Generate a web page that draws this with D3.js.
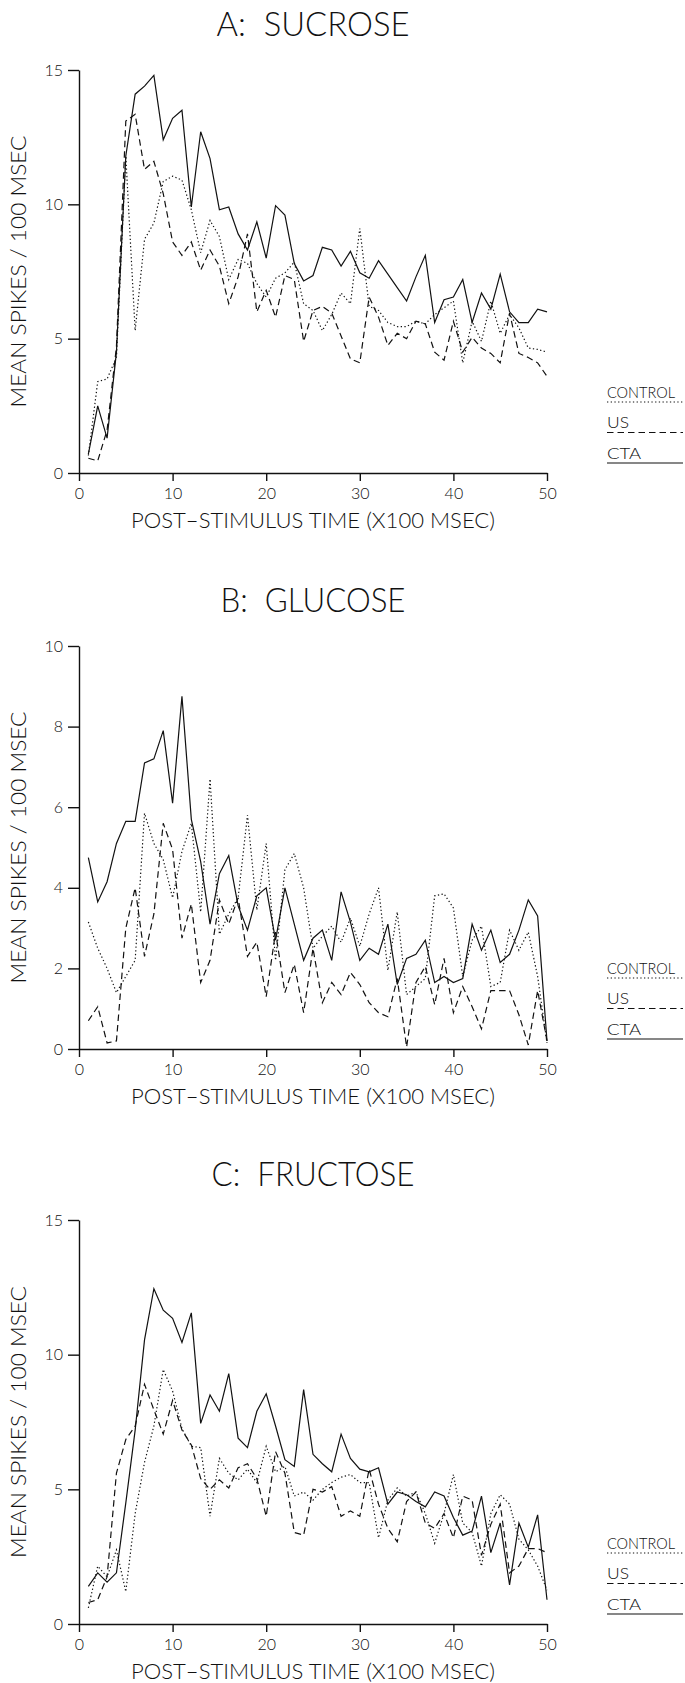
<!DOCTYPE html>
<html>
<head>
<meta charset="utf-8">
<script src="https://cdn.jsdelivr.net/npm/d3@7"></script>
<style>
  body { margin: 0; background: #fff; }
  svg text { font-family: Lato, "Liberation Sans", Arial, sans-serif; font-weight: 300; fill: #111; white-space: pre; }
</style>
</head>
<body>
<svg id="chart" width="685" height="1683"></svg>
<script>
//
// Data
//

// time bins, x100 msec
const bins = d3.range(1, 51)
const xTicks = [0, 10, 20, 30, 40, 50]
const ticks15 = [0, 5, 10, 15]
const ticks10 = [0, 2, 4, 6, 8, 10]

const sucroseControl = [0.65, 3.4, 3.5, 4.3, 11.8, 5.3, 8.7, 9.3, 10.85, 11.05, 10.9, 9.8, 8.2, 9.4, 8.8, 7.2, 7.95, 7.8, 7.05, 6.55,
  7.25, 7.45, 7.85, 6.3, 6.05, 5.3, 5.9, 6.7, 6.3, 9.1, 6.2, 6.05, 5.6, 5.45, 5.45, 5.65, 5.55, 5.9, 6.15, 6.4,
  4.1, 5.65, 4.9, 6.4, 5.2, 5.9, 5.4, 4.65, 4.6, 4.5]
const sucroseUS = [0.55, 0.45, 1.6, 4.7, 13.1, 13.35, 11.3, 11.6, 10.4, 8.6, 8.1, 8.6, 7.55, 8.3, 7.7, 6.3, 7.3, 8.9, 6.0, 6.8,
  5.8, 7.35, 7.2, 4.9, 6.05, 6.2, 5.95, 5.1, 4.25, 4.1, 6.55, 5.8, 4.75, 5.2, 5.0, 5.65, 5.55, 4.5, 4.2, 5.65,
  4.5, 5.05, 4.65, 4.45, 4.1, 5.95, 4.45, 4.3, 4.1, 3.6]
const sucroseCTA = [0.7, 2.5, 1.3, 4.5, 11.8, 14.1, 14.4, 14.8, 12.4, 13.2, 13.5, 9.9, 12.7, 11.7, 9.8, 9.9, 8.9, 8.3, 9.35, 8.0,
  9.95, 9.6, 7.8, 7.15, 7.35, 8.4, 8.3, 7.7, 8.25, 7.45, 7.25, 7.9, 7.4, 6.9, 6.4, 7.3, 8.1, 5.6, 6.45, 6.55,
  7.2, 5.6, 6.7, 6.1, 7.4, 6.0, 5.6, 5.6, 6.1, 6.0]

const glucoseControl = [3.15, 2.5, 2.0, 1.4, 1.8, 2.2, 5.85, 5.1, 4.7, 3.75, 4.9, 5.6, 3.4, 6.7, 2.85, 3.35, 3.75, 5.8, 3.45, 5.1,
  2.2, 4.45, 4.85, 4.0, 2.5, 2.8, 3.05, 2.65, 3.25, 2.55, 3.35, 4.0, 1.95, 3.4, 1.35, 1.55, 1.75, 3.8, 3.85, 3.5,
  1.8, 2.7, 3.05, 1.55, 1.65, 2.95, 2.45, 2.9, 1.8, 0.15]
const glucoseUS = [0.7, 1.05, 0.15, 0.2, 3.0, 4.0, 2.3, 3.35, 5.6, 4.95, 2.75, 3.6, 1.65, 2.2, 3.7, 3.1, 3.75, 2.3, 2.65, 1.3,
  2.9, 1.4, 2.1, 0.9, 2.5, 1.15, 1.65, 1.35, 1.9, 1.6, 1.15, 0.9, 0.8, 1.75, 0.05, 1.65, 2.05, 1.1, 2.25, 0.9,
  1.55, 1.05, 0.5, 1.45, 1.45, 1.45, 0.85, 0.1, 1.45, 0.2]
const glucoseCTA = [4.75, 3.65, 4.15, 5.1, 5.65, 5.65, 7.1, 7.2, 7.9, 6.1, 8.75, 5.7, 4.65, 3.1, 4.35, 4.8, 3.55, 2.95, 3.8, 4.0,
  2.7, 4.0, 3.1, 2.2, 2.75, 2.95, 2.2, 3.9, 3.15, 2.2, 2.5, 2.35, 3.1, 1.6, 2.25, 2.35, 2.7, 1.65, 1.8, 1.65,
  1.75, 3.1, 2.45, 2.95, 2.15, 2.35, 2.95, 3.7, 3.3, 0.2]

const fructoseControl = [0.6, 2.15, 1.75, 2.75, 1.2, 4.1, 6.0, 7.35, 9.45, 8.65, 7.25, 6.6, 6.55, 4.0, 6.15, 5.6, 5.35, 5.75, 5.25, 6.6,
  5.65, 5.85, 4.75, 4.9, 4.6, 5.0, 5.25, 5.45, 5.55, 5.25, 5.25, 3.2, 4.6, 5.05, 4.75, 4.9, 4.1, 3.0, 4.1, 5.55,
  3.75, 3.4, 2.15, 4.1, 4.8, 4.45, 3.15, 2.75, 2.15, 1.25]
const fructoseUS = [0.8, 0.9, 1.75, 5.6, 6.85, 7.35, 8.9, 7.95, 7.05, 8.3, 7.2, 6.65, 5.4, 5.0, 5.35, 5.05, 5.8, 5.95, 5.4, 4.0,
  6.4, 5.6, 3.4, 3.3, 5.0, 4.9, 5.1, 4.0, 4.2, 4.0, 5.75, 4.45, 3.55, 3.05, 4.55, 4.9, 3.75, 3.55, 4.1, 3.2,
  4.75, 4.6, 2.55, 3.7, 4.45, 1.9, 2.15, 2.8, 2.8, 2.65]
const fructoseCTA = [1.4, 1.9, 1.55, 1.9, 4.5, 7.2, 10.55, 12.45, 11.65, 11.35, 10.45, 11.55, 7.45, 8.5, 7.9, 9.3, 6.9, 6.55, 7.9, 8.55,
  7.35, 6.1, 5.85, 8.7, 6.3, 5.95, 5.65, 7.05, 6.15, 5.75, 5.65, 5.8, 4.45, 4.9, 4.8, 4.55, 4.35, 4.9, 4.75, 3.95,
  3.3, 3.45, 4.75, 2.65, 3.75, 1.45, 3.75, 2.85, 4.05, 0.9]

const legendLabels = ["CONTROL", "US", "CTA"]

//
// Layout
//

const svg = d3.select("#chart")
const left = 79, right = 547, midX = (left + right) / 2

const panels = [
  {title: "A:  SUCROSE", titleW: 193, top: 70, base: 473, max: 15, ticks: ticks15,
    series: [sucroseControl, sucroseUS, sucroseCTA]},
  {title: "B:  GLUCOSE", titleW: 185, top: 646, base: 1049, max: 10, ticks: ticks10,
    series: [glucoseControl, glucoseUS, glucoseCTA]},
  {title: "C:  FRUCTOSE", titleW: 203, top: 1220, base: 1624, max: 15, ticks: ticks15,
    series: [fructoseControl, fructoseUS, fructoseCTA]}
]

// dotted, dashed, solid
const dashes = ["1.3,2.4", "6.5,4", null]

const x = d3.scaleLinear().domain([0, 50]).range([left, right])

panels.forEach(function(p) {
  const y = d3.scaleLinear().domain([0, p.max]).range([p.base, p.top])
  const g = svg.append("g")

  // title
  g.append("text")
    .attr("x", midX)
    .attr("y", p.top - 34)
    .attr("text-anchor", "middle")
    .attr("font-size", 33)
    .attr("textLength", p.titleW)
    .attr("lengthAdjust", "spacingAndGlyphs")
    .text(p.title)

  // axes
  const yAxis = g.append("g")
    .attr("transform", "translate(" + left + ",0)")
    .call(d3.axisLeft(y).tickValues(p.ticks).tickSize(11).tickSizeOuter(0).tickPadding(5))
  const xAxis = g.append("g")
    .attr("transform", "translate(0," + p.base + ")")
    .call(d3.axisBottom(x).tickValues(xTicks).tickSize(8).tickSizeOuter(0).tickPadding(7))

  ;[yAxis, xAxis].forEach(function(a) {
    a.selectAll("path, line").attr("stroke", "#111").attr("stroke-width", 1.4)
    a.selectAll("text").attr("font-size", 16).attr("font-family", null).attr("fill", "#111")
  })

  // axis titles
  g.append("text")
    .attr("transform", "translate(26," + ((p.top + p.base) / 2) + ") rotate(-90)")
    .attr("text-anchor", "middle")
    .attr("font-size", 22)
    .attr("textLength", 272)
    .attr("lengthAdjust", "spacingAndGlyphs")
    .text("MEAN SPIKES / 100 MSEC")

  g.append("text")
    .attr("x", midX)
    .attr("y", p.base + 55)
    .attr("text-anchor", "middle")
    .attr("font-size", 22)
    .attr("textLength", 364)
    .attr("lengthAdjust", "spacingAndGlyphs")
    .text("POST\u2013STIMULUS TIME (X100 MSEC)")

  // series
  const line = d3.line()
    .x(d => x(d[0]))
    .y(d => y(d[1]))

  p.series.forEach(function(vals, i) {
    g.append("path")
      .datum(d3.zip(bins, vals))
      .attr("fill", "none")
      .attr("stroke", "#111")
      .attr("stroke-width", 1.2)
      .attr("stroke-dasharray", dashes[i])
      .attr("d", line)
  })

  // legend
  const leg = g.append("g").attr("transform", "translate(607," + p.base + ")")
  legendLabels.forEach(function(lab, i) {
    const ly = -71 + i * 30.5
    leg.append("text")
      .attr("x", 0)
      .attr("y", ly - 4.5)
      .attr("font-size", 16)
      .text(lab)
      .attr("textLength", [68, 22, 34][i])
      .attr("lengthAdjust", "spacingAndGlyphs")
    leg.append("line")
      .attr("x1", 0).attr("x2", 76)
      .attr("y1", ly).attr("y2", ly)
      .attr("stroke", "#111")
      .attr("stroke-width", 1.2)
      .attr("stroke-dasharray", dashes[i])
  })
})
</script>
</body>
</html>
